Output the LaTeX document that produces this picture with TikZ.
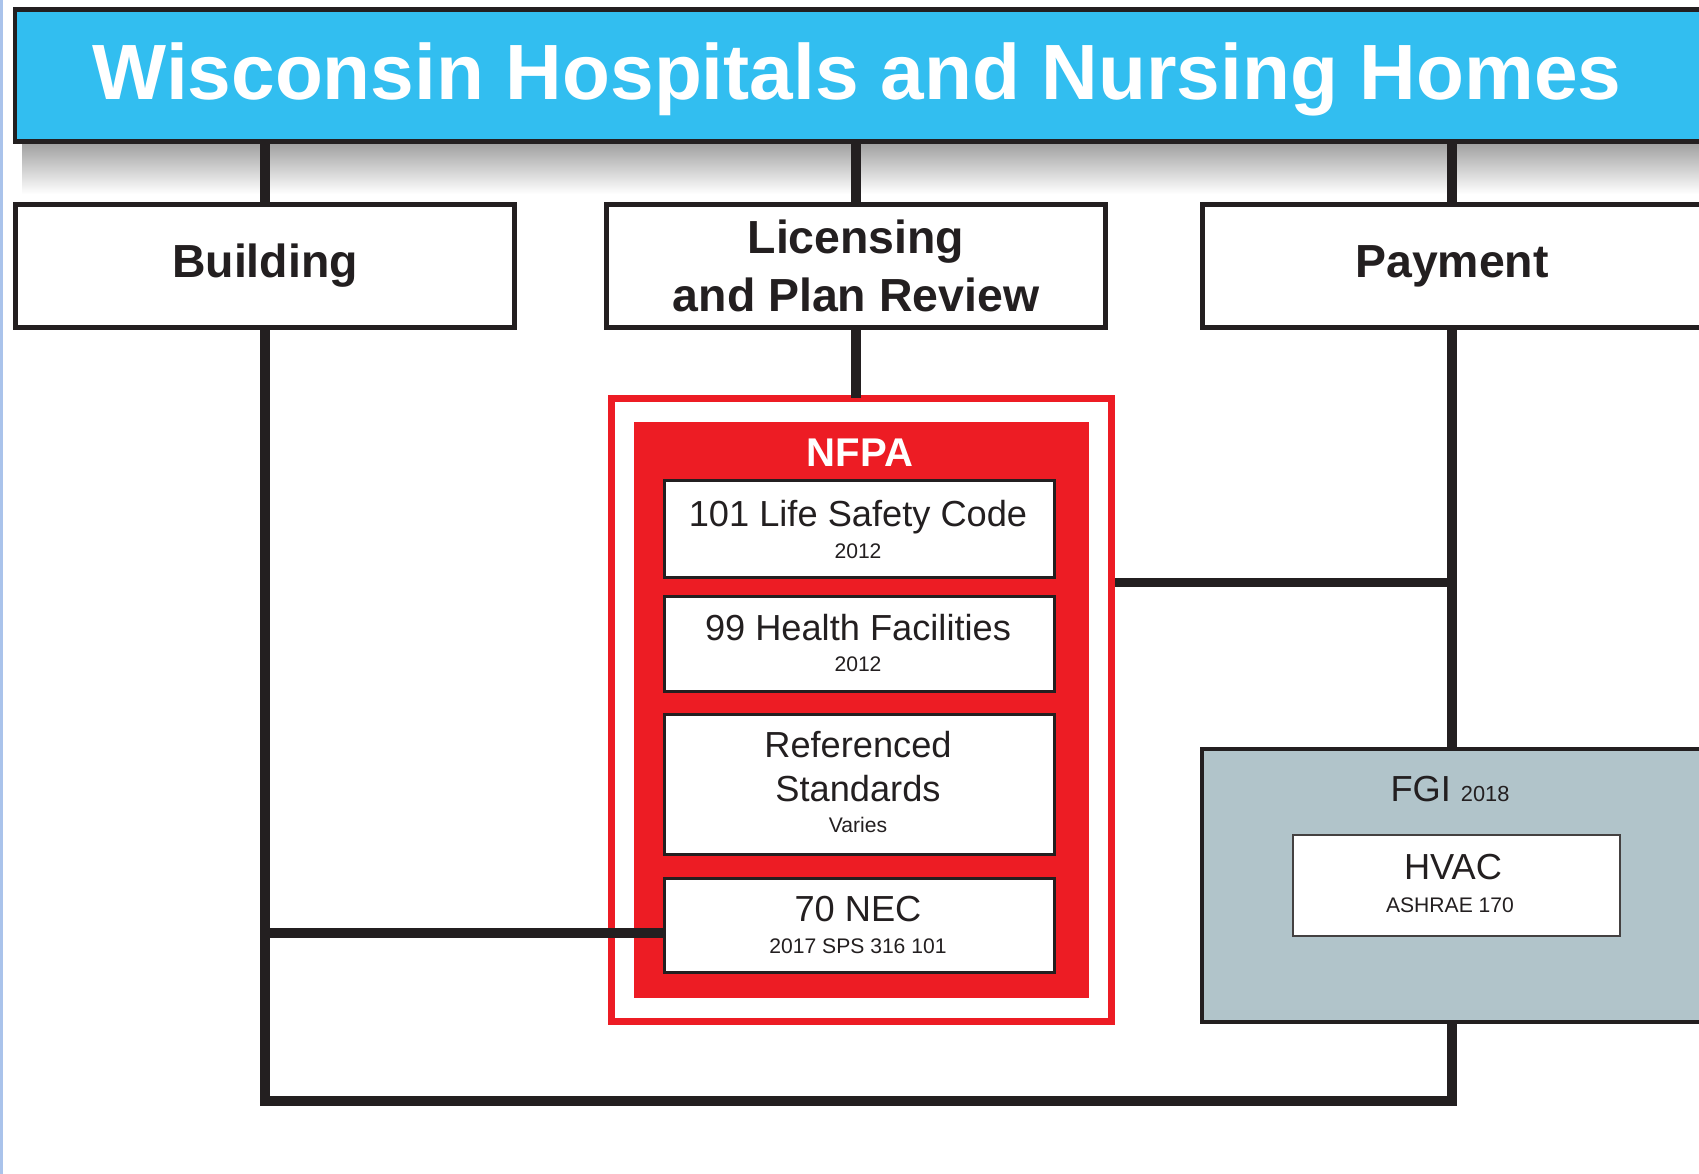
\documentclass[tikz,border=0pt]{standalone}
\usepackage{fontspec}
\setmainfont{Liberation Sans}
\usetikzlibrary{positioning,calc}
\definecolor{barblue}{RGB}{50,190,240}
\definecolor{nfpared}{RGB}{237,28,36}
\definecolor{fgigray}{RGB}{177,196,202}
\definecolor{inkblack}{RGB}{35,31,32}
\definecolor{edgeblue}{RGB}{170,195,235}
\tikzset{
    every node/.style={inner sep=0pt, outer sep=0pt, text=inkblack},
    headbox/.style={draw=inkblack, line width=1.4pt, fill=white, minimum width=4.99cm, minimum height=1.23cm, align=center, font=\bfseries\fontsize{13.2pt}{16.5pt}\selectfont},
    stdbox/.style={draw=inkblack, line width=0.85pt, fill=white, minimum width=3.9cm},
    stdtitle/.style={anchor=base, font=\fontsize{10.3pt}{12pt}\selectfont},
    stdsub/.style={anchor=base, font=\fontsize{6pt}{7pt}\selectfont},
    link/.style={draw=inkblack, line width=2.6pt},
}

\begin{document}
\begin{tikzpicture}[x=0.01cm, y=-0.01cm]
   \useasboundingbox (0,0) rectangle (1699,1174);
   \clip (0,0) rectangle (1699,1174);
% shadow under the title bar and the thin edge on the left
   \shade[top color=black!38, bottom color=white] (22,142) rectangle (1699,194);
   \fill[edgeblue] (0,0) rectangle (3,1174);
% title bar
   \node[draw=inkblack, line width=1.3pt, fill=barblue, minimum width=17.445cm, minimum height=1.32cm] (titlebar) at (887.75,75.5) {};
   \node[anchor=base, text=white, font=\bfseries\fontsize{22.3pt}{26pt}\selectfont] (title) at (857,100) {Wisconsin Hospitals and Nursing Homes};
% the three branches
   \node[headbox] (building) at (265,266) {Building};
   \node[headbox] (licensing) at (856,266) {Licensing\\and Plan Review};
   \node[headbox] (payment) at (1452,266) {Payment};
% NFPA frame with its four codes
   \node[draw=nfpared, line width=2pt, fill=white, minimum width=5cm, minimum height=6.23cm] (frame) at (861.5,710) {};
   \node[fill=nfpared, minimum width=4.55cm, minimum height=5.76cm] (nfpa) at (861.5,710) {};
   \node[anchor=base, text=white, font=\bfseries\fontsize{11.4pt}{13pt}\selectfont] (nfpa_t) at (860,467) {NFPA};
   \node[stdbox, minimum height=0.97cm] (lsc) at (859.5,529) {};
   \node[stdbox, minimum height=0.95cm] (hf) at (859.5,644) {};
   \node[stdbox, minimum height=1.40cm] (rs) at (859.5,784.5) {};
   \node[stdbox, minimum height=0.94cm] (nec) at (859.5,925.5) {};
   \node[stdtitle] (lsc_t) at (858,527) {101 Life Safety Code};
   \node[stdsub] (lsc_s) at (858,559) {2012};
   \node[stdtitle] (hf_t) at (858,641) {99 Health Facilities};
   \node[stdsub] (hf_s) at (858,672) {2012};
   \node[stdtitle] (rs_t) at (858,758) {Referenced};
   \node[stdtitle] (rs_t2) at (858,802) {Standards};
   \node[stdsub] (rs_s) at (858,833) {Varies};
   \node[stdtitle] (nec_t) at (858,922) {70 NEC};
   \node[stdsub] (nec_s) at (858,954) {2017 SPS 316 101};
% FGI with HVAC
   \node[draw=inkblack, line width=1.15pt, fill=fgigray, minimum width=5cm, minimum height=2.73cm] (fgi) at (1452,885.5) {};
   \node[anchor=base, font=\fontsize{10.3pt}{12pt}\selectfont] (fgi_t) at (1450,802) {FGI {\fontsize{6.2pt}{7pt}\selectfont 2018}};
   \node[draw=inkblack!85, line width=0.7pt, fill=white, minimum width=3.27cm, minimum height=1.01cm] (hvac) at (1456.5,885.5) {};
   \node[stdtitle] (hvac_t) at (1453,880) {HVAC};
   \node[stdsub] (hvac_s) at (1450,913) {ASHRAE 170};
% connectors
   \coordinate (pjoin) at (1452,582.5);
   \coordinate (loop) at (1452,1101);
   \draw[link] (titlebar.south -| building) -- (building);
   \draw[link] (titlebar.south -| licensing) -- (licensing);
   \draw[link] (titlebar.south -| payment) -- (payment);
   \draw[link] (licensing.south) -- (licensing.south |- frame.north);
   \draw[link] (payment) -- (fgi);
   \draw[link] ($(pjoin -| frame.east)+(3.5,0)$) -- (pjoin);
   \draw[link] (building) -- (building |- loop) -- (loop) -- (fgi);
   \draw[link] ($(building |- nec.west)+(0,7.5)$) -- ($(nec.west)+(0,7.5)$);
\end{tikzpicture}
\end{document}
